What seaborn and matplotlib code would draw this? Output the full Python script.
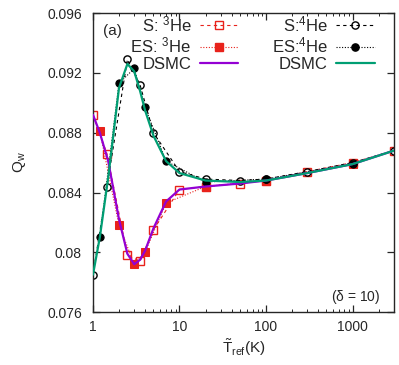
import numpy as np
import pandas as pd
import matplotlib
matplotlib.use("Agg")
import matplotlib.pyplot as plt
from matplotlib import ticker
from matplotlib.lines import Line2D
import seaborn as sns

# S model (Shakhov) points
t_s = [1, 1.45, 2.5, 3.5, 5, 10, 20, 50, 100, 300, 1000, 3000]
s_he3 = [0.0892, 0.0866, 0.0798, 0.0794, 0.0815, 0.0842, 0.0844, 0.0846, 0.0848, 0.0854, 0.0860, 0.0868]
s_he4 = [0.0785, 0.0844, 0.0929, 0.0912, 0.0880, 0.0854, 0.0849, 0.0848, 0.0849, 0.0854, 0.0860, 0.0868]

# ES model points
t_es = [1.2, 2, 3, 4, 7, 20, 100, 1000]
es_he3 = [0.0881, 0.0818, 0.0792, 0.0800, 0.0833, 0.0844, 0.0848, 0.0859]
es_he4 = [0.0810, 0.0913, 0.0923, 0.0897, 0.0861, 0.0847, 0.0849, 0.0859]

# DSMC curves
t_dsmc = [1, 1.2, 1.5, 2, 2.5, 3, 3.5, 4, 5, 7, 10, 20, 50, 100, 300, 1000, 3000]
dsmc_he3 = [0.0892, 0.0880, 0.0861, 0.0822, 0.0799, 0.0792, 0.0795, 0.0801, 0.0816, 0.0834,
            0.0842, 0.0844, 0.0846, 0.0848, 0.0853, 0.0859, 0.0868]
dsmc_he4 = [0.0785, 0.0810, 0.0850, 0.0910, 0.0926, 0.0921, 0.0908, 0.0895, 0.0878, 0.0861,
            0.0853, 0.0848, 0.0847, 0.0848, 0.0853, 0.0859, 0.0868]

red = "#e8221b"
purple = "#9400d3"
teal = "#009e73"
ms = 5.2
dash = (0, (3, 3))
dot = (0, (1, 1.5))

sns.set_style("ticks")
plt.rcParams["font.family"] = ["Liberation Sans", "DejaVu Sans"]
plt.rcParams["mathtext.default"] = "regular"

fig = plt.figure(figsize=(3.99, 3.65), dpi=100)
ax = fig.add_axes([0.233, 0.145, 0.754, 0.819])

sns.lineplot(x=t_dsmc, y=dsmc_he3, ax=ax, color=purple, lw=1.6, zorder=3)
sns.lineplot(x=t_dsmc, y=dsmc_he4, ax=ax, color=teal, lw=1.6, zorder=3)

sns.lineplot(x=t_s, y=s_he3, ax=ax, color=red, lw=0.8, linestyle=dash,
             marker="s", markersize=ms, markerfacecolor="none", markeredgecolor=red,
             markeredgewidth=1.0, zorder=2)
sns.lineplot(x=t_es, y=es_he3, ax=ax, color=red, lw=0.8, linestyle=dot,
             marker="s", markersize=ms, markerfacecolor=red, markeredgecolor=red, zorder=2)
sns.lineplot(x=t_s, y=s_he4, ax=ax, color="black", lw=0.8, linestyle=dash,
             marker="o", markersize=ms, markerfacecolor="none", markeredgecolor="black",
             markeredgewidth=1.0, zorder=2)
sns.lineplot(x=t_es, y=es_he4, ax=ax, color="black", lw=0.8, linestyle=dot,
             marker="o", markersize=ms, markerfacecolor="black", markeredgecolor="black", zorder=2)

ax.set_xscale("log")
ax.set_xlim(1, 3000)
ax.set_ylim(0.076, 0.096)
ax.set_yticks(np.arange(0.076, 0.0961, 0.004))
ax.yaxis.set_major_formatter(ticker.FuncFormatter(lambda v, p: "%g" % round(v, 4)))
ax.xaxis.set_major_formatter(ticker.FuncFormatter(lambda v, p: "%g" % v))
ax.tick_params(which="both", direction="in", top=True, right=True, labelsize=10)
ax.tick_params(axis="y", pad=8)
ax.tick_params(axis="x", pad=6)
ax.tick_params(which="major", length=5, width=0.9)
ax.tick_params(which="minor", length=2.5, width=0.7)
for s in ax.spines.values():
    s.set_linewidth(1.0)

ax.set_xlabel(r"$\tilde{T}_{ref}$(K)", fontsize=11, labelpad=2)
ax.set_ylabel(r"Q$_w$", fontsize=11, labelpad=14)

ax.text(0.035, 0.965, "(a)", transform=ax.transAxes, fontsize=11, va="top", ha="left")
ax.text(0.955, 0.02, r"($\delta$ = 10)", transform=ax.transAxes, fontsize=10, va="bottom", ha="right")

handles = [
    Line2D([], [], color=red, lw=0.8, linestyle=dash, marker="s", markersize=ms,
           markerfacecolor="none", markeredgecolor=red),
    Line2D([], [], color=red, lw=0.8, linestyle=dot, marker="s", markersize=ms,
           markerfacecolor=red),
    Line2D([], [], color=purple, lw=1.6),
    Line2D([], [], color="black", lw=0.8, linestyle=dash, marker="o", markersize=ms,
           markerfacecolor="none"),
    Line2D([], [], color="black", lw=0.8, linestyle=dot, marker="o", markersize=ms,
           markerfacecolor="black"),
    Line2D([], [], color=teal, lw=1.6),
]
labels = [r"S: $^3$He", r"ES: $^3$He", "DSMC", r"S:$^4$He", r"ES:$^4$He", "DSMC"]
leg = ax.legend(handles, labels, ncol=2, loc="upper right", bbox_to_anchor=(0.975, 1.035),
                frameon=False, markerfirst=False, fontsize=12, handlelength=2.3,
                handletextpad=0.5, columnspacing=2.0, labelspacing=0.08, borderpad=0.2)

fig.savefig("out.png", dpi=100)
